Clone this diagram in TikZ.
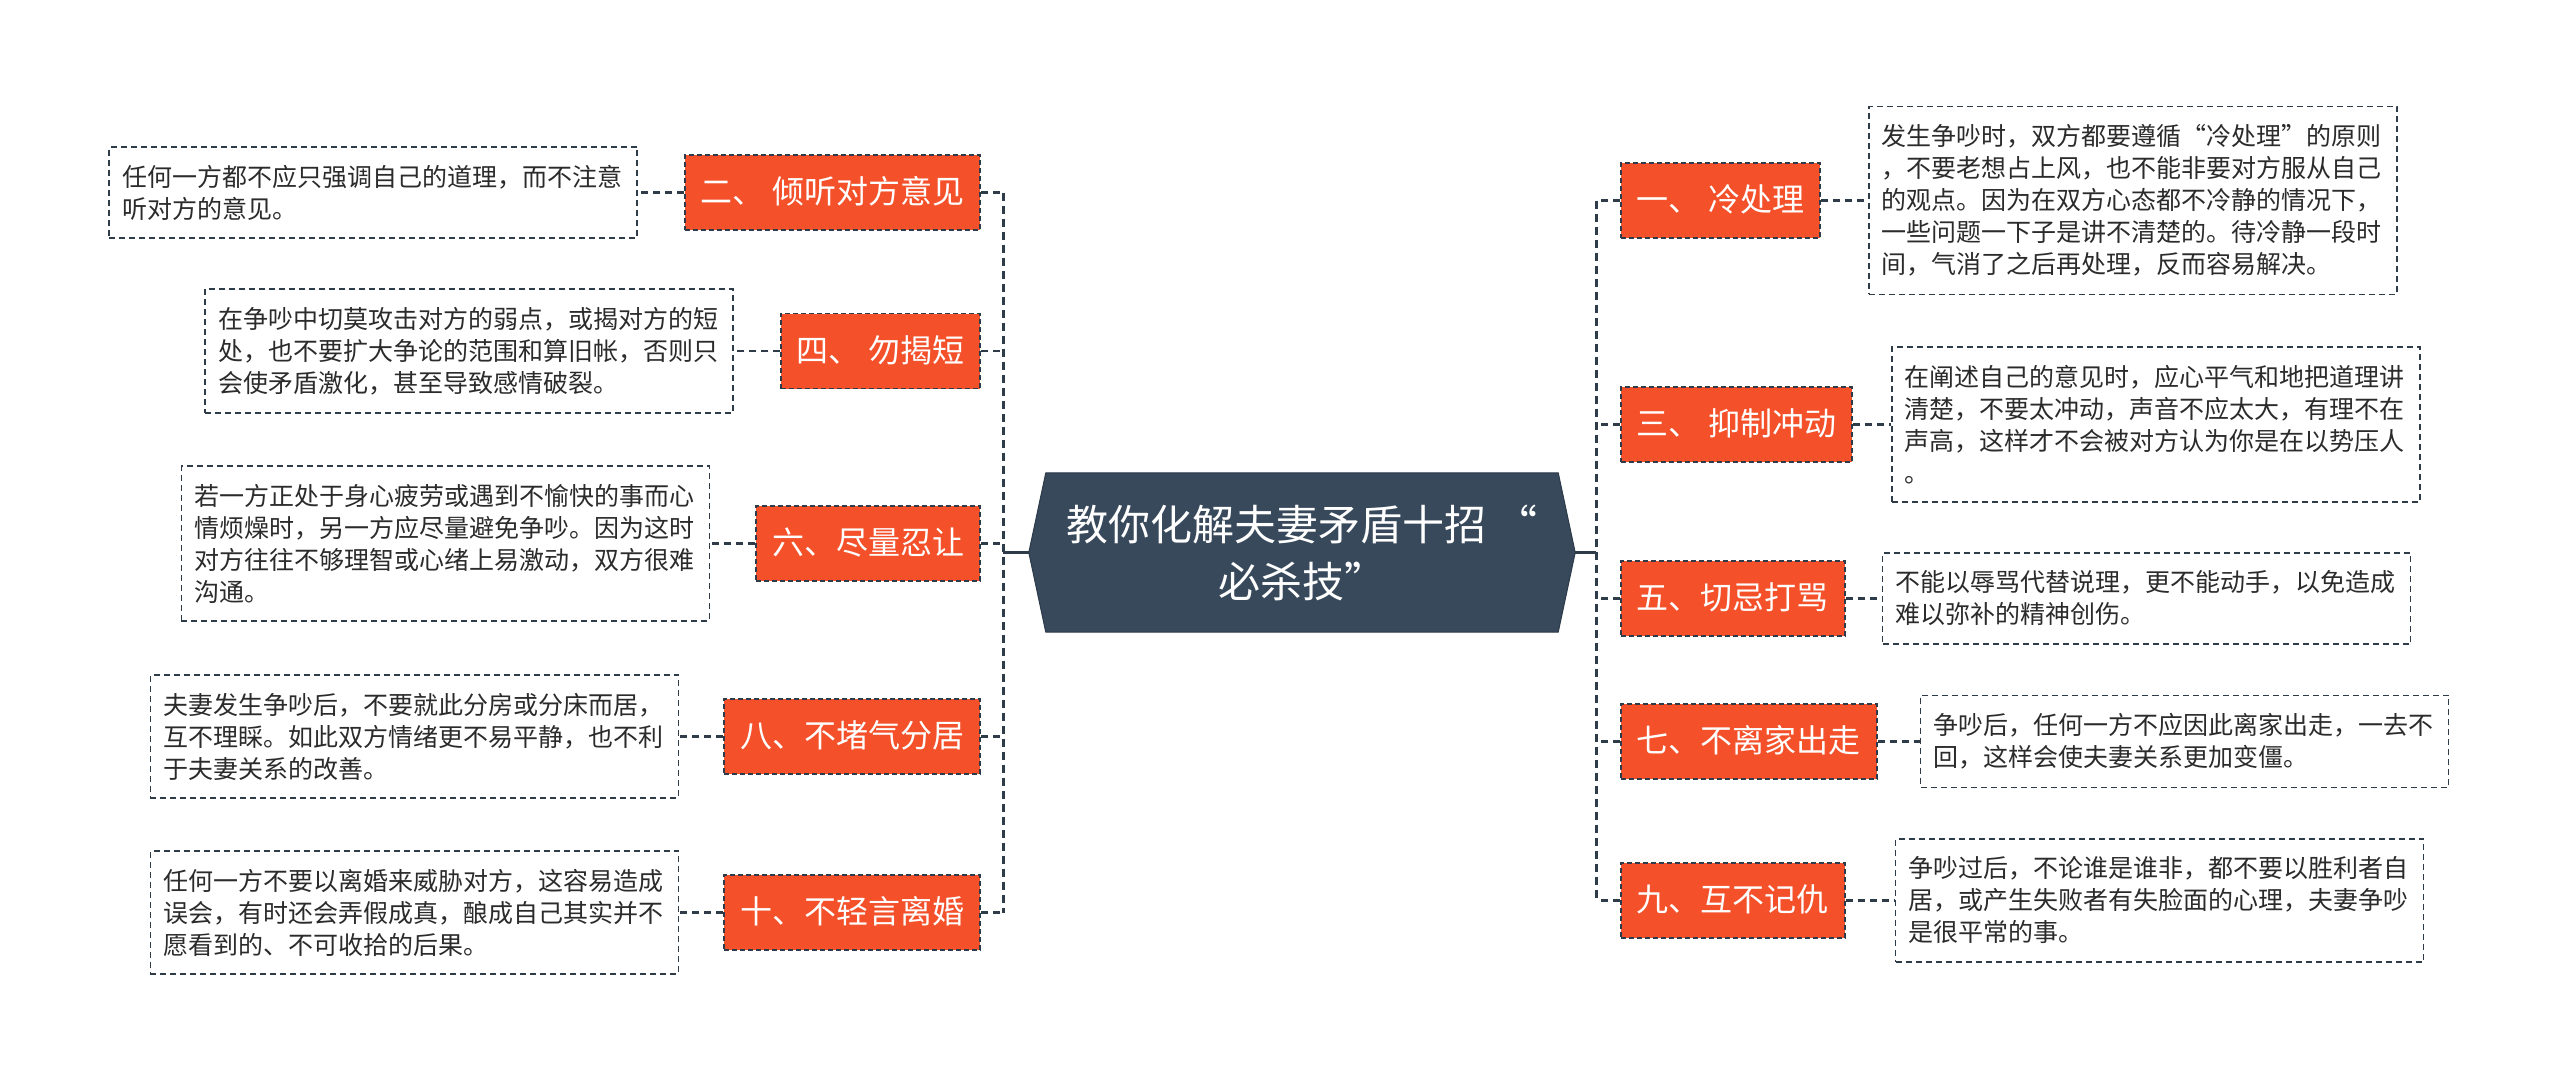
\documentclass[tikz,border=0pt]{standalone}
\usepackage{fontspec}
\setmainfont{Noto Sans CJK SC}
\usetikzlibrary{positioning}
\definecolor{orangeR}{HTML}{F4502A}
\definecolor{hubC}{HTML}{37495B}
\definecolor{lineC}{HTML}{2E3B49}
\definecolor{txtC}{HTML}{2B2B2B}
\pgfdeclarelayer{bg}
\pgfdeclarelayer{paper}
\pgfsetlayers{paper,bg,main}
\begin{document}
\begin{tikzpicture}[x=1pt,y=-1pt,
  topic/.style={fill=orangeR, draw=lineC, dash pattern=on 5pt off 3pt, line width=1.8pt,
    text=white, font=\fontsize{32}{38}\selectfont, inner xsep=16pt, inner ysep=0pt,
    text height=28pt, text depth=6pt, minimum height=75pt},
  note/.style={draw=lineC, line width=1.6pt, dash pattern=on 6pt off 4pt, text=txtC,
    font=\fontsize{25}{32}\selectfont, align=left, text width=502pt,
    inner xsep=13pt, inner ysep=18pt},
  hub/.style={text=white, font=\fontsize{42}{57}\selectfont, align=center,
    minimum width=546pt, minimum height=159pt, inner sep=0pt},
  conn/.style={draw=lineC, line width=3pt, dash pattern=on 8pt off 5pt},
  link/.style={draw=lineC, line width=2.6pt, dash pattern=on 7pt off 5pt},
  solidc/.style={draw=lineC, line width=3pt},
]
\begin{pgfonlayer}{paper}
\fill[white] (0,0) rectangle (2560,1081);
\end{pgfonlayer}
\useasboundingbox (0,0) rectangle (2560,1081);

% central node
\node[hub] (c) at (1302,552.5) {教你化解夫妻矛盾十招 “\\必杀技”};
\begin{pgfonlayer}{bg}
\filldraw[fill=hubC, draw=hubC!80!black, line width=1pt]
  ([xshift=17pt]c.north west) -- ([xshift=-17pt]c.north east) -- (c.east)
  -- ([xshift=-17pt]c.south east) -- ([xshift=17pt]c.south west) -- (c.west) -- cycle;
\end{pgfonlayer}

\coordinate (ls) at (1003,552.5);
\coordinate (rs) at (1596,552.5);

% left topics
\node[topic, anchor=east] (L2) at (981,192.5) {二、 倾听对方意见};
\node[topic, anchor=east] (L4) at (981,351) {四、 勿揭短};
\node[topic, anchor=east] (L6) at (981,543.5) {六、尽量忍让};
\node[topic, anchor=east] (L8) at (981,736.5) {八、不堵气分居};
\node[topic, anchor=east] (L10) at (981,912.5) {十、不轻言离婚};

% right topics
\node[topic, anchor=west] (R1) at (1620,200.5) {一、 冷处理};
\node[topic, anchor=west] (R3) at (1620,424.5) {三、 抑制冲动};
\node[topic, anchor=west] (R5) at (1620,598.5) {五、切忌打骂};
\node[topic, anchor=west] (R7) at (1620,741.5) {七、不离家出走};
\node[topic, anchor=west] (R9) at (1620,900.5) {九、互不记仇};

% left notes
\node[note, left=46pt of L2] (T2) {任何一方都不应只强调自己的道理，而不注意\\听对方的意见。};
\node[note, left=46pt of L4] (T4) {在争吵中切莫攻击对方的弱点，或揭对方的短\\处，也不要扩大争论的范围和算旧帐，否则只\\会使矛盾激化，甚至导致感情破裂。};
\node[note, left=45pt of L6] (T6) {若一方正处于身心疲劳或遇到不愉快的事而心\\情烦燥时，另一方应尽量避免争吵。因为这时\\对方往往不够理智或心绪上易激动，双方很难\\沟通。};
\node[note, left=44pt of L8] (T8) {夫妻发生争吵后，不要就此分房或分床而居，\\互不理睬。如此双方情绪更不易平静，也不利\\于夫妻关系的改善。};
\node[note, left=44pt of L10] (T10) {任何一方不要以离婚来威胁对方，这容易造成\\误会，有时还会弄假成真，酿成自己其实并不\\愿看到的、不可收拾的后果。};

% right notes
\node[note, right=47pt of R1] (S1) {发生争吵时，双方都要遵循“冷处理”的原则\\，不要老想占上风，也不能非要对方服从自己\\的观点。因为在双方心态都不冷静的情况下，\\一些问题一下子是讲不清楚的。待冷静一段时\\间，气消了之后再处理，反而容易解决。};
\node[note, right=38pt of R3] (S3) {在阐述自己的意见时，应心平气和地把道理讲\\清楚，不要太冲动，声音不应太大，有理不在\\声高，这样才不会被对方认为你是在以势压人\\。};
\node[note, right=36pt of R5] (S5) {不能以辱骂代替说理，更不能动手，以免造成\\难以弥补的精神创伤。};
\node[note, right=42pt of R7] (S7) {争吵后，任何一方不应因此离家出走，一去不\\回，这样会使夫妻关系更加变僵。};
\node[note, right=49pt of R9] (S9) {争吵过后，不论谁是谁非，都不要以胜利者自\\居，或产生失败者有失脸面的心理，夫妻争吵\\是很平常的事。};

% connectors: hub to spines
\draw[solidc] (c.west) -- (ls);
\draw[solidc] (c.east) -- (rs);
\draw[conn] (ls |- L2.east) -- (ls |- L10.east);
\draw[conn] (rs |- R1.west) -- (rs |- R9.west);

% spine to topics
\foreach \n in {L2,L4,L6,L8,L10} {\draw[link] (\n.east) -- (ls |- \n.east);}
\foreach \n in {R1,R3,R5,R7,R9} {\draw[link] (\n.west) -- (rs |- \n.west);}

% topics to notes
\draw[link] (L2.west) -- (T2.east);
\draw[link] (L4.west) -- (T4.east);
\draw[link] (L6.west) -- (T6.east);
\draw[link] (L8.west) -- (T8.east);
\draw[link] (L10.west) -- (T10.east);
\draw[link] (R1.east) -- (S1.west);
\draw[link] (R3.east) -- (S3.west);
\draw[link] (R5.east) -- (S5.west);
\draw[link] (R7.east) -- (S7.west);
\draw[link] (R9.east) -- (S9.west);
\end{tikzpicture}
\end{document}
